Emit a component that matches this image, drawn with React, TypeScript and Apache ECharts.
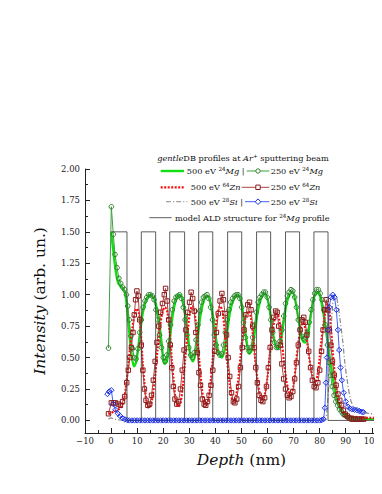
import React, { useEffect, useRef } from "react";
import * as echarts from "echarts";

// ---------- axes ----------
const X_MIN = -10;
const X_MAX = 110;
const X_INTERVAL = 10;
const Y_MIN = -0.1;
const Y_MAX = 2.0;
const Y_TICKS = [0, 0.25, 0.5, 0.75, 1.0, 1.25, 1.5, 1.75, 2.0];
const Y_MINOR_TICKS = [0.125, 0.375, 0.625, 0.875, 1.125, 1.375, 1.625, 1.875];

// ---------- data : [depth (nm), intensity] ----------
const MG_500: [number, number][] = [
  [0, 1.5], [0.8, 1.36], [1.7, 1.2], [2.6, 1.1], [3.5, 1.07], [4.5, 1.05], [5.4, 1.01], [6.1, 0.9],
  [6.9, 0.72], [7.8, 0.53], [8.8, 0.43], [9.7, 0.47], [10.9, 0.66], [12.1, 0.85], [13.3, 0.95],
  [14.4, 0.99], [15.2, 1.0], [16.1, 0.98], [17.0, 0.94], [18.2, 0.82], [19.3, 0.63], [20.5, 0.45],
  [21.4, 0.47], [22.4, 0.62], [23.5, 0.82], [24.6, 0.94], [25.6, 0.99], [26.5, 1.0], [27.5, 0.95],
  [28.5, 0.84], [29.5, 0.67], [30.5, 0.51], [31.4, 0.47], [32.4, 0.54], [33.4, 0.7], [34.5, 0.86],
  [35.7, 0.96], [36.9, 0.99], [38.0, 0.95], [39.0, 0.84], [40.0, 0.68], [41.2, 0.54], [42.4, 0.5],
  [43.5, 0.56], [44.6, 0.72], [45.8, 0.88], [47.2, 0.97], [48.6, 1.0], [49.8, 0.95], [50.8, 0.82],
  [51.9, 0.64], [53.0, 0.53], [54.0, 0.56], [55.1, 0.7], [56.3, 0.87], [57.7, 0.98], [59.1, 1.01],
  [60.2, 0.95], [61.2, 0.83], [62.2, 0.68], [63.2, 0.59], [64.1, 0.57], [65.0, 0.62], [66.1, 0.77],
  [67.3, 0.93], [68.5, 1.0], [69.6, 1.02], [70.6, 0.96], [71.6, 0.84], [72.6, 0.71], [73.6, 0.63],
  [74.6, 0.62], [75.5, 0.68], [76.5, 0.82], [77.6, 0.96], [78.6, 1.01], [79.5, 1.02], [80.4, 0.97],
  [81.2, 0.88], [82.0, 0.78], [82.8, 0.66], [83.5, 0.55], [84.3, 0.45], [85.0, 0.34], [85.7, 0.26],
  [86.5, 0.17], [87.4, 0.11], [88.5, 0.07], [90, 0.04], [92, 0.02], [95, 0.015], [98, 0.01], [101, 0.01],
];

const MG_250: [number, number][] = [
  [-1.0, 0.575], [0.1, 1.7], [0.85, 1.48], [1.5, 1.32], [2.3, 1.215], [3.0, 1.13], [3.7, 1.09],
  [4.4, 1.06], [5.2, 1.04], [5.9, 1.0], [6.4, 0.91], [7.0, 0.8], [7.6, 0.67], [8.2, 0.57], [8.9, 0.5],
  [9.6, 0.49], [10.3, 0.57], [11.0, 0.7], [11.6, 0.8], [12.3, 0.9], [13.0, 0.95], [13.7, 0.98],
  [14.4, 1.0], [15.1, 1.0], [15.8, 0.99], [16.5, 0.96], [17.2, 0.88], [17.9, 0.8], [18.6, 0.68],
  [19.3, 0.58], [20.0, 0.5], [20.7, 0.47], [21.4, 0.52], [22.1, 0.63], [22.8, 0.76], [23.5, 0.88],
  [24.2, 0.95], [24.9, 0.98], [25.6, 0.99], [26.3, 1.0], [27.0, 0.97], [27.7, 0.9], [28.4, 0.8],
  [29.1, 0.68], [29.8, 0.58], [30.5, 0.52], [31.2, 0.5], [31.9, 0.54], [32.6, 0.64], [33.3, 0.76],
  [34.0, 0.87], [34.7, 0.94], [35.4, 0.98], [36.1, 0.99], [36.8, 1.0], [37.5, 0.97], [38.2, 0.9],
  [38.9, 0.8], [39.6, 0.68], [40.3, 0.6], [41.0, 0.54], [41.7, 0.52], [42.4, 0.53], [43.1, 0.6],
  [43.8, 0.7], [44.5, 0.8], [45.2, 0.88], [45.9, 0.94], [46.6, 0.97], [47.3, 0.99], [48.0, 1.0],
  [48.7, 1.0], [49.4, 0.97], [50.1, 0.9], [50.8, 0.78], [51.5, 0.66], [52.2, 0.58], [52.9, 0.55],
  [53.6, 0.58], [54.3, 0.66], [55.0, 0.76], [55.7, 0.86], [56.4, 0.94], [57.1, 0.98], [57.8, 1.0],
  [58.5, 1.02], [59.2, 1.02], [59.9, 0.98], [60.6, 0.9], [61.3, 0.8], [62.0, 0.7], [62.7, 0.62],
  [63.4, 0.58], [64.1, 0.58], [64.8, 0.63], [65.5, 0.72], [66.2, 0.83], [66.9, 0.93], [67.6, 0.99],
  [68.3, 1.02], [69.0, 1.04], [69.7, 1.03], [70.4, 0.98], [71.1, 0.9], [71.8, 0.8], [72.5, 0.72],
  [73.2, 0.67], [73.9, 0.65], [74.6, 0.66], [75.3, 0.7], [76.0, 0.78], [76.7, 0.88], [77.4, 0.96],
  [78.1, 1.01], [78.8, 1.04], [79.5, 1.04], [80.2, 1.01], [80.9, 0.96], [81.6, 0.88], [82.3, 0.76],
  [83.0, 0.6], [83.6, 0.46], [84.2, 0.36], [84.8, 0.27], [85.5, 0.2], [86.2, 0.15], [86.9, 0.12],
  [87.6, 0.09], [88.3, 0.07], [89.0, 0.05], [89.7, 0.04], [90.4, 0.03], [91.1, 0.02], [91.8, 0.015],
  [92.5, 0.012], [93.2, 0.01], [93.9, 0.01],
];

const ZN_500: [number, number][] = [
  [-1, 0.05], [0, 0.06], [1, 0.07], [2, 0.08], [3, 0.09], [4, 0.11], [4.9, 0.16], [5.6, 0.25],
  [6.4, 0.4], [7.3, 0.58], [8.2, 0.74], [9.1, 0.85], [9.9, 0.89], [10.7, 0.85], [11.4, 0.7],
  [12.1, 0.47], [12.9, 0.27], [13.7, 0.14], [14.4, 0.1], [15.2, 0.12], [16.0, 0.2], [16.9, 0.36],
  [17.8, 0.56], [18.8, 0.75], [19.8, 0.87], [20.7, 0.9], [21.6, 0.86], [22.5, 0.7], [23.3, 0.48],
  [24.2, 0.27], [25.0, 0.14], [25.8, 0.11], [26.6, 0.14], [27.5, 0.27], [28.4, 0.48], [29.3, 0.69],
  [30.2, 0.85], [31.1, 0.91], [32.0, 0.86], [32.9, 0.7], [33.8, 0.48], [34.7, 0.28], [35.5, 0.16],
  [36.3, 0.12], [37.1, 0.15], [38.0, 0.27], [38.9, 0.47], [39.8, 0.68], [40.8, 0.84], [41.8, 0.91],
  [42.7, 0.87], [43.6, 0.71], [44.5, 0.49], [45.4, 0.3], [46.3, 0.18], [47.1, 0.15], [47.9, 0.19],
  [48.8, 0.33], [49.7, 0.52], [50.7, 0.71], [51.7, 0.83], [52.7, 0.87], [53.6, 0.82], [54.5, 0.66],
  [55.4, 0.46], [56.3, 0.3], [57.2, 0.2], [58.1, 0.17], [59.0, 0.21], [59.9, 0.33], [60.8, 0.51],
  [61.8, 0.69], [62.8, 0.81], [63.7, 0.85], [64.6, 0.79], [65.5, 0.63], [66.4, 0.45], [67.3, 0.31],
  [68.2, 0.23], [69.0, 0.21], [69.9, 0.27], [70.8, 0.43], [71.7, 0.6], [72.7, 0.73], [73.7, 0.78],
  [74.6, 0.72], [75.5, 0.58], [76.4, 0.44], [77.3, 0.35], [78.3, 0.3], [79.2, 0.36], [80.0, 0.5],
  [80.8, 0.66], [81.7, 0.8], [82.5, 0.9], [83.2, 0.93], [83.8, 0.86], [84.4, 0.72], [84.9, 0.58],
  [85.4, 0.45], [86.3, 0.27], [87.5, 0.13], [88.5, 0.08], [89.4, 0.058], [91, 0.04], [93, 0.03],
  [96, 0.022], [99, 0.02], [102, 0.02],
];

const ZN_250: [number, number][] = [
  [-1.0, 0.053], [0.1, 0.14], [0.9, 0.14], [1.7, 0.14], [2.7, 0.13], [3.6, 0.12], [4.4, 0.15],
  [5.2, 0.19], [6.0, 0.3], [6.6, 0.4], [7.2, 0.5], [7.8, 0.58], [8.4, 0.7], [8.9, 0.84], [9.4, 0.96],
  [9.9, 1.03], [10.4, 0.99], [11.0, 0.8], [11.6, 0.6], [12.2, 0.4], [12.8, 0.25], [13.4, 0.16],
  [14.1, 0.12], [14.8, 0.13], [15.5, 0.2], [16.2, 0.32], [16.9, 0.47], [17.6, 0.62], [18.3, 0.75],
  [19.0, 0.86], [19.7, 0.93], [20.4, 1.0], [20.9, 1.05], [21.5, 0.95], [22.1, 0.8], [22.7, 0.6],
  [23.3, 0.42], [23.9, 0.27], [24.5, 0.17], [25.2, 0.13], [25.9, 0.15], [26.6, 0.25], [27.3, 0.4],
  [28.0, 0.56], [28.7, 0.72], [29.4, 0.86], [30.1, 0.94], [30.7, 1.02], [31.3, 0.97], [31.9, 0.87],
  [32.5, 0.7], [33.1, 0.54], [33.7, 0.38], [34.3, 0.28], [35.0, 0.17], [35.7, 0.13], [36.3, 0.12],
  [37.0, 0.15], [37.6, 0.2], [38.3, 0.28], [39.0, 0.4], [39.7, 0.55], [40.4, 0.7], [41.1, 0.85],
  [41.8, 0.95], [42.5, 1.01], [43.1, 0.96], [43.7, 0.85], [44.3, 0.68], [44.9, 0.5], [45.5, 0.35],
  [46.2, 0.22], [46.9, 0.15], [47.5, 0.14], [48.2, 0.17], [48.9, 0.27], [49.6, 0.42], [50.3, 0.58],
  [51.0, 0.72], [51.7, 0.84], [52.4, 0.92], [53.1, 0.94], [53.7, 0.88], [54.3, 0.75], [54.9, 0.58],
  [55.5, 0.42], [56.1, 0.3], [56.8, 0.2], [57.5, 0.16], [58.2, 0.15], [58.9, 0.18], [59.6, 0.27],
  [60.3, 0.42], [61.0, 0.58], [61.7, 0.72], [62.4, 0.82], [63.1, 0.87], [63.7, 0.86], [64.3, 0.75],
  [64.9, 0.6], [65.5, 0.45], [66.2, 0.33], [66.9, 0.25], [67.6, 0.2], [68.3, 0.18], [69.0, 0.19],
  [69.7, 0.23], [70.4, 0.33], [71.1, 0.46], [71.8, 0.6], [72.5, 0.72], [73.2, 0.8], [73.9, 0.82],
  [74.5, 0.78], [75.1, 0.68], [75.8, 0.55], [76.5, 0.42], [77.2, 0.32], [77.9, 0.27], [78.6, 0.26],
  [79.3, 0.3], [80.0, 0.4], [80.7, 0.55], [81.3, 0.72], [81.9, 0.88], [82.5, 0.96], [83.1, 0.88],
  [83.7, 0.72], [84.3, 0.6], [84.9, 0.47], [85.6, 0.36], [86.3, 0.28], [87.0, 0.21], [87.7, 0.16],
  [88.4, 0.12], [89.1, 0.08], [89.8, 0.05], [90.6, 0.035], [91.4, 0.02], [92.2, 0.012], [93.0, 0.01],
  [93.8, 0.01], [94.6, 0.01], [95.4, 0.01], [96.2, 0.01], [96.9, 0.01],
];

const SI_500: [number, number][] = [
  [-1, 0.01], [0, 0.02], [1, 0.012], [2, 0.008], [3, 0.005], [5, 0.0], [20, 0.0], [40, 0.0],
  [60, 0.0], [80, 0.0], [82, 0.005], [82.8, 0.08], [83.5, 0.3], [84.2, 0.65], [85.0, 0.92],
  [85.8, 1.0], [86.7, 0.96], [87.7, 0.82], [88.8, 0.64], [89.7, 0.45], [90.7, 0.3], [91.8, 0.17],
  [93, 0.11], [95, 0.08], [97, 0.065], [99, 0.055], [102, 0.05],
];

const SI_250: [number, number][] = [
  [-1.4, 0.21], [-0.7, 0.23], [0.1, 0.24], [0.85, 0.13], [1.7, 0.085], [2.6, 0.055], [3.5, 0.035],
  [4.4, 0.018], [5.3, 0.008], [6.2, 0.003], [7, 0], [8, 0], [9, 0], [10, 0], [11, 0], [12, 0],
  [13, 0], [14, 0], [15, 0], [16, 0], [17, 0], [18, 0], [19, 0], [20, 0], [21, 0], [22, 0], [23, 0],
  [24, 0], [25, 0], [26, 0], [27, 0], [28, 0], [29, 0], [30, 0], [31, 0], [32, 0], [33, 0], [34, 0],
  [35, 0], [36, 0], [37, 0], [38, 0], [39, 0], [40, 0], [41, 0], [42, 0], [43, 0], [44, 0], [45, 0],
  [46, 0], [47, 0], [48, 0], [49, 0], [50, 0], [51, 0], [52, 0], [53, 0], [54, 0], [55, 0], [56, 0],
  [57, 0], [58, 0], [59, 0], [60, 0], [61, 0], [62, 0], [63, 0], [64, 0], [65, 0], [66, 0], [67, 0],
  [68, 0], [69, 0], [70, 0], [71, 0], [72, 0], [73, 0], [74, 0], [75, 0], [76, 0], [77, 0], [78, 0],
  [79, 0], [80, 0], [80.8, 0.003], [81.5, 0.01], [82.0, 0.1], [82.4, 0.3], [82.8, 0.5], [83.2, 0.72],
  [83.7, 0.9], [84.3, 0.98], [85.0, 1.0], [85.7, 0.98], [86.4, 0.88], [87.0, 0.72], [87.5, 0.56],
  [88.0, 0.42], [88.5, 0.32], [89.2, 0.22], [90.0, 0.15], [90.8, 0.11], [91.6, 0.095], [92.5, 0.088],
  [93.4, 0.085], [94.3, 0.082], [95.2, 0.075], [96.2, 0.068], [96.8, 0.065],
];

// model ALD structure: edges of the square profile, alternating high / low, starting high
const MODEL_EDGES = [0, 6.1, 11.6, 17.1, 22.5, 28.2, 33.6, 39.0, 44.7, 50.1, 55.8, 61.2, 66.9, 72.3, 77.8, 83.2];
const MODEL_HIGH = 1.5;
const MODEL_LOW = 0;
const MODEL_END = 110;

// ---------- styles ----------
const FONT = "DejaVu Serif";
const C_MG500 = "#12e012";
const C_MG250_LINE = "#3f9f3f";
const C_MG250_MARK = "#2f7f2f";
const C_ZN500 = "#ff0a0a";
const C_ZN250_LINE = "#b04040";
const C_ZN250_MARK = "#8a1d1d";
const C_SI500 = "#8a8a8a";
const C_SI250_LINE = "#4060ff";
const C_SI250_MARK = "#1c2ee0";
const C_MODEL = "#333333";
const AXIS = "#222222";

function buildModel(): [number, number][] {
  const out: [number, number][] = [[MODEL_EDGES[0], MODEL_HIGH]];
  let high = true;
  for (let i = 1; i < MODEL_EDGES.length; i++) {
    const e = MODEL_EDGES[i];
    out.push([e, high ? MODEL_HIGH : MODEL_LOW]);
    high = !high;
    out.push([e, high ? MODEL_HIGH : MODEL_LOW]);
  }
  out.push([MODEL_END, high ? MODEL_HIGH : MODEL_LOW]);
  return out;
}

const LFS = 8.2;
const RICH = {
  it: { fontStyle: "italic", fontSize: LFS, fontFamily: FONT, fill: "#111", lineHeight: 10 },
  sup: { fontSize: 5.6, fontFamily: FONT, fill: "#111", verticalAlign: "top", lineHeight: 6 },
  n: { fontSize: LFS, fontFamily: FONT, fill: "#111", lineHeight: 10 },
};

function legendText(text: string, x: number, y: number, align: "left" | "right" | "center") {
  return {
    type: "text",
    x,
    y,
    style: {
      text,
      fontSize: LFS,
      fontFamily: FONT,
      fill: "#111",
      align,
      verticalAlign: "middle",
      textAlign: align,
      textVerticalAlign: "middle",
      rich: RICH,
    },
    z: 100,
  };
}

function seg(x1: number, x2: number, y: number, stroke: string, lineWidth: number, lineDash?: number[]) {
  return {
    type: "line",
    shape: { x1, y1: y, x2, y2: y },
    style: { stroke, lineWidth, lineDash },
    z: 100,
  };
}

function buildLegend() {
  const r1 = 171, r2 = 187.3, r3 = 201.7, r4 = 217.7;
  const mx = 258;
  return [
    legendText("{it|gentle}{n|DB profiles at }{it|Ar}{sup|+}{n| sputtering beam}", 243, 158.3, "center"),
    seg(160.7, 184, r1, C_MG500, 2.4),
    legendText("{n|500 eV }{sup|24}{it|Mg}{n| |}", 244.5, r1, "right"),
    seg(246.7, 269.3, r1, C_MG250_LINE, 1),
    { type: "circle", shape: { cx: mx, cy: r1, r: 2.2 }, style: { fill: "#fff", stroke: C_MG250_MARK, lineWidth: 1 }, z: 101 },
    legendText("{n|250 eV }{sup|24}{it|Mg}", 270.7, r1, "left"),

    seg(160.7, 184, r2, C_ZN500, 2.2, [2, 1.5]),
    legendText("{n|500 eV }{sup|64}{it|Zn}", 240.5, r2, "right"),
    seg(241.7, 269.3, r2, C_ZN250_LINE, 1),
    { type: "rect", shape: { x: mx - 2.2, y: r2 - 2.2, width: 4.4, height: 4.4 }, style: { fill: "#fff", stroke: C_ZN250_MARK, lineWidth: 1 }, z: 101 },
    legendText("{n|250 eV }{sup|64}{it|Zn}", 270.7, r2, "left"),

    seg(166, 187.3, r3, C_SI500, 1, [5, 2, 1.2, 2]),
    legendText("{n|500 eV }{sup|28}{it|Si}{n| |}", 243, r3, "right"),
    seg(245, 269.3, r3, C_SI250_LINE, 1),
    {
      type: "polygon",
      shape: { points: [[mx, r3 - 2.8], [mx + 2.8, r3], [mx, r3 + 2.8], [mx - 2.8, r3]] },
      style: { fill: "#fff", stroke: C_SI250_MARK, lineWidth: 1 },
      z: 101,
    },
    legendText("{n|250 eV }{sup|28}{it|Si}", 270.7, r3, "left"),

    seg(149.3, 171.7, r4, C_MODEL, 0.8),
    legendText("{n|model ALD structure for }{sup|24}{it|Mg}{n| profile}", 175, r4, "left"),
  ];
}

const axisLabelStyle = { fontFamily: FONT, fontSize: 8.5, color: AXIS };
const CHART_W = 409; // axis runs to 110 nm; the page shows only the first 382 px
const CHART_H = 494;

export default function App() {
  const ref = useRef<HTMLDivElement>(null);
  useEffect(() => {
    if (!ref.current) return;
    const chart = echarts.init(ref.current, undefined, { renderer: "svg" });
    const option: any = {
      animation: false,
      backgroundColor: "#ffffff",
      grid: { left: 85, top: 169, bottom: 61, right: 0, containLabel: false },
      xAxis: {
        type: "value",
        min: X_MIN,
        max: X_MAX,
        interval: X_INTERVAL,
        name: "{it|Depth} (nm)",
        nameLocation: "middle",
        nameGap: 19,
        nameTextStyle: {
          fontFamily: FONT,
          fontSize: 15.5,
          color: "#111",
          rich: { it: { fontFamily: FONT, fontSize: 15.5, fontStyle: "italic", color: "#111" } },
        },
        axisLine: { onZero: false, lineStyle: { color: AXIS, width: 1 } },
        axisTick: { inside: true, length: 5, lineStyle: { color: AXIS } },
        minorTick: { show: true, splitNumber: 2, length: 3, lineStyle: { color: AXIS } },
        axisLabel: {
          ...axisLabelStyle,
          margin: 3,
          formatter: (v: number) => String(v).replace("-", "\u2212"),
        },
        splitLine: { show: false },
      },
      yAxis: [
        {
          type: "value",
          position: "left",
          min: Y_MIN,
          max: Y_MAX,
          name: "{it|Intensity} (arb. un.)",
          nameLocation: "middle",
          nameGap: 37,
          nameTextStyle: {
            fontFamily: FONT,
            fontSize: 15.5,
            color: "#111",
            rich: { it: { fontFamily: FONT, fontSize: 15.5, fontStyle: "italic", color: "#111" } },
          },
          axisLine: { onZero: false, lineStyle: { color: AXIS, width: 1 } },
          axisTick: { inside: true, length: 5, customValues: Y_TICKS, lineStyle: { color: AXIS } },
          axisLabel: {
            ...axisLabelStyle,
            margin: 5,
            customValues: Y_TICKS,
            formatter: (v: number) => v.toFixed(2),
          },
          splitLine: { show: false },
        },
        {
          type: "value",
          position: "left",
          offset: 0,
          min: Y_MIN,
          max: Y_MAX,
          axisLine: { show: false, onZero: false },
          axisTick: { inside: true, length: 3, customValues: Y_MINOR_TICKS, lineStyle: { color: AXIS } },
          axisLabel: { show: false, customValues: Y_MINOR_TICKS },
          splitLine: { show: false },
        },
      ],
      graphic: buildLegend(),
      series: [
        {
          name: "500 eV 24Mg",
          type: "line",
          data: MG_500,
          smooth: 0.3,
          showSymbol: false,
          symbol: "none",
          lineStyle: { color: C_MG500, width: 2.4 },
        },
        {
          name: "250 eV 24Mg",
          type: "line",
          data: MG_250,
          symbol: "circle",
          symbolSize: 4.6,
          lineStyle: { color: C_MG250_LINE, width: 1 },
          itemStyle: { color: "transparent", borderColor: C_MG250_MARK, borderWidth: 1 },
        },
        {
          name: "500 eV 64Zn",
          type: "line",
          data: ZN_500,
          smooth: 0.3,
          showSymbol: false,
          symbol: "none",
          lineStyle: { color: C_ZN500, width: 2.2, type: [2, 1.5] },
        },
        {
          name: "250 eV 64Zn",
          type: "line",
          data: ZN_250,
          symbol: "rect",
          symbolSize: 4.4,
          lineStyle: { color: C_ZN250_LINE, width: 1 },
          itemStyle: { color: "transparent", borderColor: C_ZN250_MARK, borderWidth: 1 },
        },
        {
          name: "500 eV 28Si",
          type: "line",
          data: SI_500,
          smooth: 0.3,
          showSymbol: false,
          symbol: "none",
          lineStyle: { color: C_SI500, width: 1.2, type: [5, 2, 1.2, 2] },
        },
        {
          name: "250 eV 28Si",
          type: "line",
          data: SI_250,
          symbol: "diamond",
          symbolSize: 5.4,
          lineStyle: { color: C_SI250_LINE, width: 1 },
          itemStyle: { color: "transparent", borderColor: C_SI250_MARK, borderWidth: 1 },
        },
        {
          name: "model ALD structure for 24Mg profile",
          type: "line",
          data: buildModel(),
          showSymbol: false,
          symbol: "none",
          lineStyle: { color: C_MODEL, width: 0.8 },
        },
      ],
    };
    chart.setOption(option);
    return () => chart.dispose();
  }, []);
  return (
    <div style={{ width: 382, height: CHART_H, margin: -8, overflow: "hidden", position: "relative" }}>
      <div ref={ref} style={{ width: CHART_W, height: CHART_H }} />
    </div>
  );
}
